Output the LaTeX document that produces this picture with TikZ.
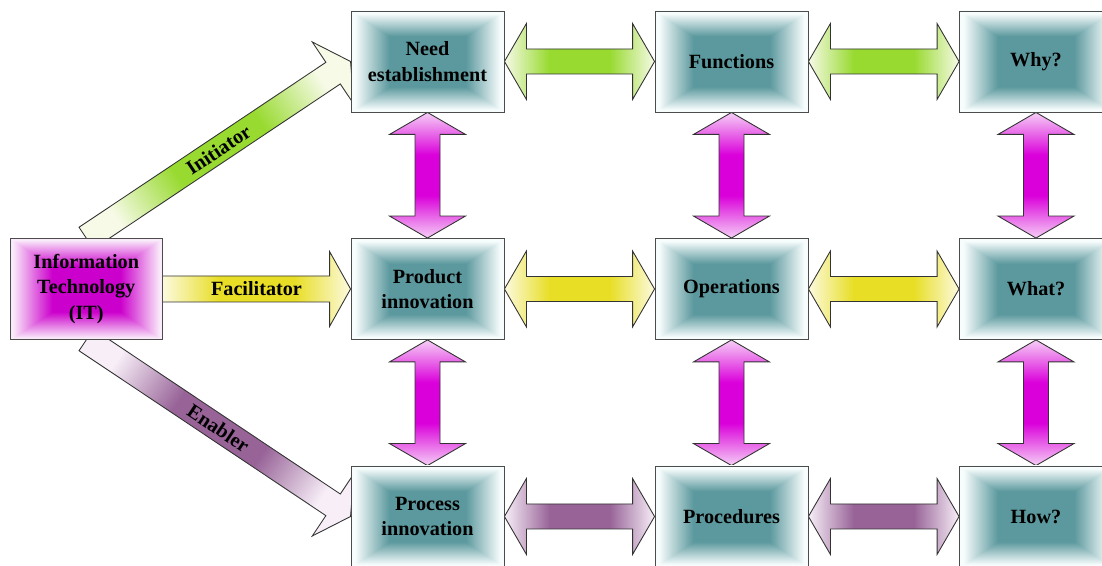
\documentclass[tikz,border=0pt]{standalone}
\usepackage{fontspec}
\setmainfont{Liberation Serif}
\usepackage{xcolor}
\usepackage{tikz}
\usetikzlibrary{calc, backgrounds}
\definecolor{greenarr}{RGB}{152, 218, 48}
\definecolor{greenlt}{RGB}{246, 250, 230}
\definecolor{yellowarr}{RGB}{232, 222, 38}
\definecolor{yellowlt}{RGB}{252, 250, 222}
\definecolor{purplearr}{RGB}{152, 100, 152}
\definecolor{purplelt}{RGB}{247, 238, 247}
\definecolor{magarr}{RGB}{218, 0, 218}
\definecolor{maglt}{RGB}{246, 206, 246}

% rectangular gradients for the boxes
\pgfdeclarefunctionalshading{tealrect}{\pgfpoint{-50bp}{-50bp}}{\pgfpoint{50bp}{50bp}}{}{
  abs exch abs 2 copy lt {exch} if pop
  25 div 0.5 sub 0.45 div
  dup 0 lt {pop 0} if dup 1 gt {pop 1} if
  dup 0.61 mul 0.36 add exch
  dup 0.39 mul 0.60 add exch
  0.37 mul 0.62 add
}
\pgfdeclarefunctionalshading{magrect}{\pgfpoint{-50bp}{-50bp}}{\pgfpoint{50bp}{50bp}}{}{
  abs exch abs 2 copy lt {exch} if pop
  25 div 0.45 sub 0.52 div
  dup 0 lt {pop 0} if dup 1 gt {pop 1} if
  dup 0.18 mul 0.80 add exch
  dup 0.92 mul 0.0 add exch
  0.18 mul 0.80 add
}
% light - colour - light along the arrows
\pgfdeclarehorizontalshading{greenaxis}{100bp}{color(0bp)=(greenlt); color(25bp)=(greenlt);
  color(40bp)=(greenarr); color(60bp)=(greenarr); color(75bp)=(greenlt); color(100bp)=(greenlt)}
\pgfdeclarehorizontalshading{yellowaxis}{100bp}{color(0bp)=(yellowlt); color(25bp)=(yellowlt);
  color(40bp)=(yellowarr); color(60bp)=(yellowarr); color(75bp)=(yellowlt); color(100bp)=(yellowlt)}
\pgfdeclarehorizontalshading{purpleaxis}{100bp}{color(0bp)=(purplelt); color(25bp)=(purplelt);
  color(40bp)=(purplearr); color(60bp)=(purplearr); color(75bp)=(purplelt); color(100bp)=(purplelt)}
\pgfdeclareverticalshading{magaxis}{100bp}{color(0bp)=(maglt); color(25bp)=(maglt);
  color(42bp)=(magarr); color(58bp)=(magarr); color(75bp)=(maglt); color(100bp)=(maglt)}

\newcommand{\dblarrow}[3]{%
  \coordinate (ha) at ($(#2)!0.44cm!(#3)$);
  \coordinate (hb) at ($(#3)!0.44cm!(#2)$);
  \draw[#1] (#2) -- ($(ha)!0.76cm!90:(#3)$) -- ($(ha)!0.25cm!90:(#3)$)
    -- ($(hb)!0.25cm!-90:(#2)$) -- ($(hb)!0.76cm!-90:(#2)$) -- (#3)
    -- ($(hb)!0.76cm!90:(#2)$) -- ($(hb)!0.25cm!90:(#2)$)
    -- ($(ha)!0.25cm!-90:(#3)$) -- ($(ha)!0.76cm!-90:(#3)$) -- cycle;
}
\newcommand{\sglarrow}[4]{%
  \coordinate (hb) at ($(#3)!0.42cm!(#2)$);
  \draw[#1] ($(#2)!0.26cm!90:(#3)$) -- ($(hb)!0.26cm!-90:(#2)$)
    -- ($(hb)!0.75cm!-90:(#2)$) -- (#3) -- ($(hb)!0.75cm!90:(#2)$)
    -- ($(hb)!0.26cm!90:(#2)$) -- ($(#2)!0.26cm!-90:(#3)$) -- cycle;
  \path (#2) -- node[lbl, sloped]{#4} (#3);
}

\begin{document}
\begin{tikzpicture}[
    box/.style={rectangle, draw=black!70, line width=0.5pt,
                shade, shading=tealrect,
                minimum width=3.06cm, minimum height=2.02cm,
                align=center, inner sep=2pt,
                font=\fontsize{11.5}{14.5}\selectfont\bfseries},
    itbox/.style={box, shading=magrect, minimum width=3.03cm},
    arr/.style={draw=black!80, line width=0.5pt, shade},
    ga/.style={arr, shading=greenaxis},
    ya/.style={arr, shading=yellowaxis},
    pa/.style={arr, shading=purpleaxis},
    ma/.style={arr, shading=magaxis},
    lbl/.style={font=\fontsize{11.5}{14}\selectfont\bfseries, inner sep=1pt}
]
\useasboundingbox (0,0) rectangle (22.04,11.32);
\clip (0,0) rectangle (22.04,11.32);

\node[itbox] (it) at (1.725, 5.54) {Information\\Technology\\(IT)};

% Boxes
\node[box] (need)  at ( 8.55, 10.09) {Need\\establishment};
\node[box] (func)  at (14.63, 10.09) {Functions};
\node[box] (why)   at (20.72, 10.09) {Why?};
\node[box] (prod)  at ( 8.55,  5.54) {Product\\innovation};
\node[box] (oper)  at (14.63,  5.54) {Operations};
\node[box] (what)  at (20.72,  5.54) {What?};
\node[box] (proc)  at ( 8.55,  0.99) {Process\\innovation};
\node[box] (pced)  at (14.63,  0.99) {Procedures};
\node[box] (how)   at (20.72,  0.99) {How?};

\begin{scope}[on background layer]
% From IT
\sglarrow{ga, shading angle=34}{it.north}{need.west}{Initiator}
\sglarrow{ya}{it.east}{prod.west}{Facilitator}
\sglarrow{pa, shading angle=-34}{it.south}{proc.west}{Enabler}

% Rows
\dblarrow{ga}{need.east}{func.west}
\dblarrow{ga}{func.east}{why.west}
\dblarrow{ya}{prod.east}{oper.west}
\dblarrow{ya}{oper.east}{what.west}
\dblarrow{pa}{proc.east}{pced.west}
\dblarrow{pa}{pced.east}{how.west}

% Columns
\dblarrow{ma}{need.south}{prod.north}
\dblarrow{ma}{prod.south}{proc.north}
\dblarrow{ma}{func.south}{oper.north}
\dblarrow{ma}{oper.south}{pced.north}
\dblarrow{ma}{why.south}{what.north}
\dblarrow{ma}{what.south}{how.north}
\end{scope}

\end{tikzpicture}
\end{document}
